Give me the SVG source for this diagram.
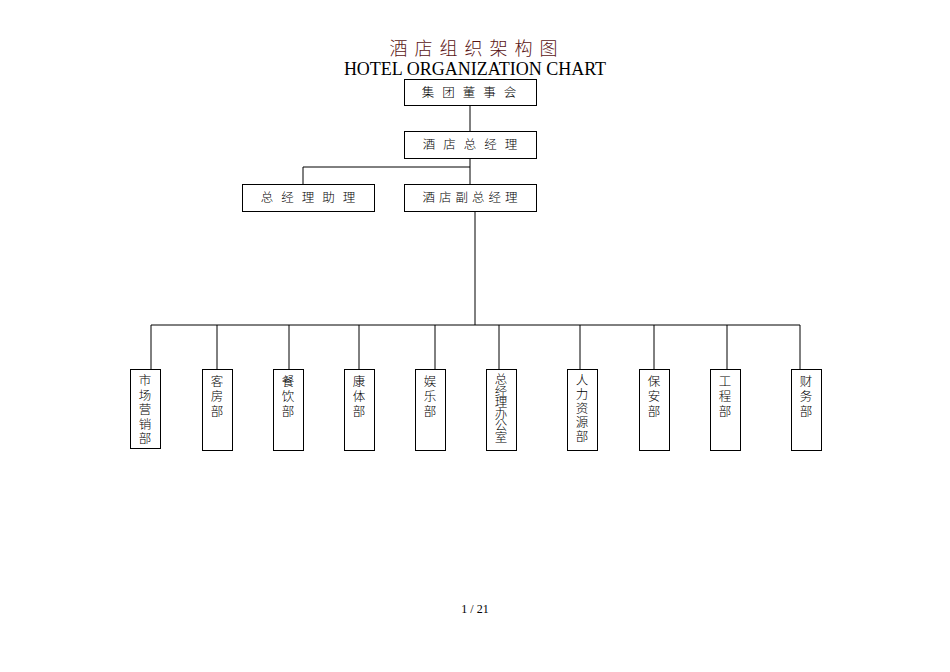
<svg xmlns="http://www.w3.org/2000/svg" width="950" height="672" viewBox="0 0 950 672">
<style>
.b{fill:#fff;stroke:#000;stroke-width:1}
.t{font-family:"Noto Sans CJK SC",sans-serif;font-size:12.5px;font-weight:300;fill:#000;text-anchor:middle}
.c line{stroke:#000;stroke-width:1}
</style>
<rect width="950" height="672" fill="#fff"/>
<text x="477" y="55" font-family="Noto Sans CJK SC,sans-serif" font-size="18" font-weight="300" fill="#5a1414" text-anchor="middle" letter-spacing="7">酒店组织架构图</text>
<text x="475" y="75" font-family="Liberation Serif,serif" font-size="18" text-anchor="middle">HOTEL ORGANIZATION CHART</text>
<g class="c">
<line x1="470" y1="105" x2="470" y2="131"/>
<line x1="470" y1="158" x2="470" y2="184"/>
<line x1="303" y1="167" x2="470" y2="167"/>
<line x1="303" y1="167" x2="303" y2="184"/>
<line x1="475" y1="211" x2="475" y2="325"/>
<line x1="151" y1="325" x2="800" y2="325"/>
<line x1="151" y1="325" x2="151" y2="369"/>
<line x1="217" y1="325" x2="217" y2="369"/>
<line x1="289" y1="325" x2="289" y2="369"/>
<line x1="359" y1="325" x2="359" y2="369"/>
<line x1="435" y1="325" x2="435" y2="369"/>
<line x1="499" y1="325" x2="499" y2="369"/>
<line x1="580" y1="325" x2="580" y2="369"/>
<line x1="654" y1="325" x2="654" y2="369"/>
<line x1="727" y1="325" x2="727" y2="369"/>
<line x1="800" y1="325" x2="800" y2="369"/>
</g>
<g id="n1"><rect class="b" x="404.5" y="79.5" width="132" height="26"/><text class="t" x="473" y="97" letter-spacing="8">集团董事会</text></g>
<g id="n2"><rect class="b" x="404.5" y="131.5" width="132" height="27"/><text class="t" x="474" y="149" letter-spacing="8">酒店总经理</text></g>
<g id="n3"><rect class="b" x="242.5" y="184.5" width="132" height="27"/><text class="t" x="312" y="202" letter-spacing="8">总经理助理</text></g>
<g id="n4"><rect class="b" x="404.5" y="184.5" width="132" height="27"/><text class="t" x="472" y="202" letter-spacing="4">酒店副总经理</text></g>
<g id="d1"><rect class="b" x="130.5" y="369.5" width="30" height="79"/><text class="t" x="145" y="385">市<tspan x="145" dy="14.5">场</tspan><tspan x="145" dy="14.5">营</tspan><tspan x="145" dy="14.5">销</tspan><tspan x="145" dy="14.5">部</tspan></text></g>
<g id="d2"><rect class="b" x="202.5" y="369.5" width="30" height="81"/><text class="t" x="217" y="386">客<tspan x="217" dy="15">房</tspan><tspan x="217" dy="15">部</tspan></text></g>
<g id="d3"><rect class="b" x="273.5" y="369.5" width="30" height="81"/><text class="t" x="288" y="386">餐<tspan x="288" dy="15">饮</tspan><tspan x="288" dy="15">部</tspan></text></g>
<g id="d4"><rect class="b" x="344.5" y="369.5" width="30" height="81"/><text class="t" x="359" y="386">康<tspan x="359" dy="15">体</tspan><tspan x="359" dy="15">部</tspan></text></g>
<g id="d5"><rect class="b" x="415.5" y="369.5" width="30" height="81"/><text class="t" x="430" y="386">娱<tspan x="430" dy="15">乐</tspan><tspan x="430" dy="15">部</tspan></text></g>
<g id="d6"><rect class="b" x="486.5" y="369.5" width="30" height="81"/><text class="t" x="501" y="384" font-size="10.5">总<tspan x="501" dy="11.6">经</tspan><tspan x="501" dy="11.6">理</tspan><tspan x="501" dy="11.6">办</tspan><tspan x="501" dy="11.6">公</tspan><tspan x="501" dy="11.6">室</tspan></text></g>
<g id="d7"><rect class="b" x="567.5" y="369.5" width="30" height="81"/><text class="t" x="582" y="385">人<tspan x="582" dy="14">力</tspan><tspan x="582" dy="14">资</tspan><tspan x="582" dy="14">源</tspan><tspan x="582" dy="14">部</tspan></text></g>
<g id="d8"><rect class="b" x="639.5" y="369.5" width="30" height="81"/><text class="t" x="654" y="386">保<tspan x="654" dy="15">安</tspan><tspan x="654" dy="15">部</tspan></text></g>
<g id="d9"><rect class="b" x="710.5" y="369.5" width="30" height="81"/><text class="t" x="725" y="386">工<tspan x="725" dy="15">程</tspan><tspan x="725" dy="15">部</tspan></text></g>
<g id="d10"><rect class="b" x="791.5" y="369.5" width="30" height="81"/><text class="t" x="806" y="386">财<tspan x="806" dy="15">务</tspan><tspan x="806" dy="15">部</tspan></text></g>
<text x="475" y="613" font-family="Liberation Serif,serif" font-size="12" text-anchor="middle">1 / 21</text>
</svg>
